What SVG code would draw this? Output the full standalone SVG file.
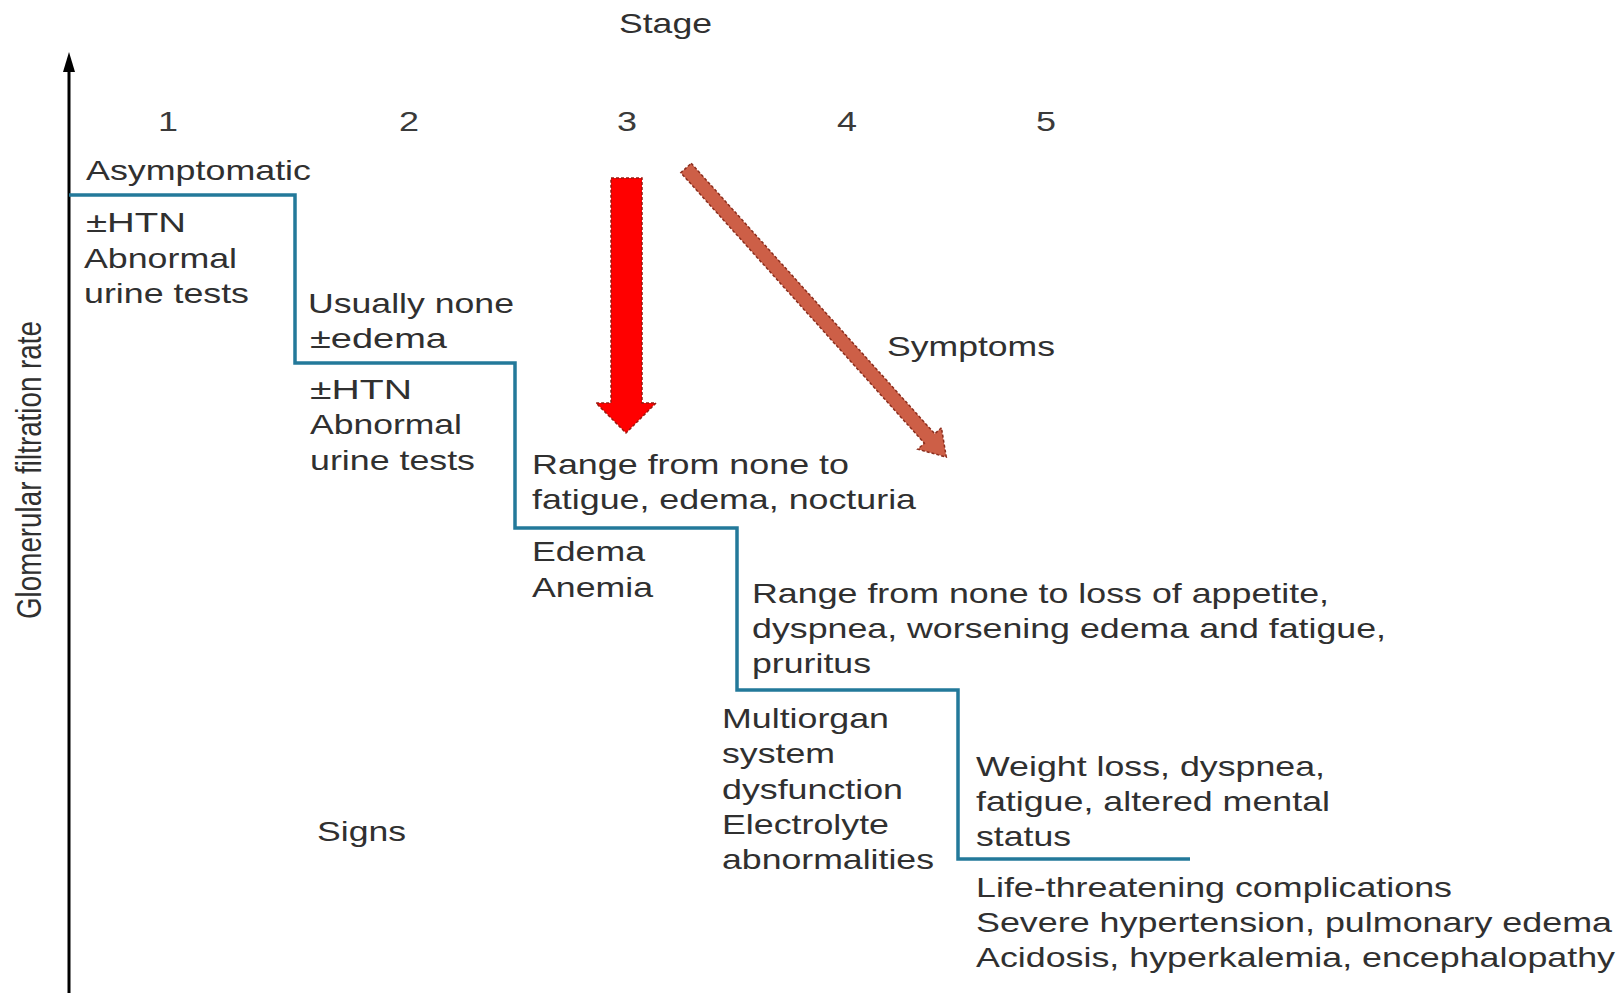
<svg xmlns="http://www.w3.org/2000/svg" width="1623" height="993" viewBox="0 0 1623 993">
<style>
text{font-family:"Liberation Sans",Arial,sans-serif;font-size:28px;fill:#303030}
.num{fill:#3a3a3a}
.step{fill:none;stroke:#23799a;stroke-width:3.5}
.axis{stroke:#000;stroke-width:3;fill:none}
</style>
<rect width="1623" height="993" fill="#fff"/>

<g id="axis">
<line class="axis" x1="69" y1="993" x2="69" y2="70"/>
<path d="M63,72 L69,52 L75,72 Z" fill="#000"/>
<text transform="translate(41,470) scale(1.25,1) rotate(-90)" text-anchor="middle" textLength="298" lengthAdjust="spacingAndGlyphs">Glomerular filtration rate</text>
</g>

<g id="stage-header">
<text x="619" y="33" textLength="93" lengthAdjust="spacingAndGlyphs">Stage</text>
<text class="num" x="158" y="131" textLength="20" lengthAdjust="spacingAndGlyphs">1</text>
<text class="num" x="399" y="131" textLength="20" lengthAdjust="spacingAndGlyphs">2</text>
<text class="num" x="617" y="131" textLength="20" lengthAdjust="spacingAndGlyphs">3</text>
<text class="num" x="837" y="131" textLength="20" lengthAdjust="spacingAndGlyphs">4</text>
<text class="num" x="1036" y="131" textLength="20" lengthAdjust="spacingAndGlyphs">5</text>
</g>

<g id="connectors">
<path class="step" d="M69,195 H295 V363 H515 V528 H737 V690 H958 V859 H1190"/>
<polygon points="611,178 642,178 642,403 656,403 626,433 596,403 611,403" fill="#ff0000" stroke="#9a1a10" stroke-width="1.5" stroke-dasharray="3 2"/>
<g transform="translate(686,168) rotate(48)">
<polygon points="0,-7 364,-7 364,-16 389,0 364,16 364,7 0,7" fill="#cd5f47" stroke="#8a2e1e" stroke-width="1.5" stroke-dasharray="3 2"/>
</g>
</g>

<g id="stage1">
<text x="86" y="180" textLength="225" lengthAdjust="spacingAndGlyphs">Asymptomatic</text>
<text x="86" y="232" textLength="100" lengthAdjust="spacingAndGlyphs">±HTN</text>
<text x="84" y="268" textLength="153" lengthAdjust="spacingAndGlyphs">Abnormal</text>
<text x="84" y="303" textLength="165" lengthAdjust="spacingAndGlyphs">urine tests</text>
</g>

<g id="stage2">
<text x="308" y="313" textLength="206" lengthAdjust="spacingAndGlyphs">Usually none</text>
<text x="310" y="348" textLength="137" lengthAdjust="spacingAndGlyphs">±edema</text>
<text x="310" y="399" textLength="102" lengthAdjust="spacingAndGlyphs">±HTN</text>
<text x="310" y="434" textLength="152" lengthAdjust="spacingAndGlyphs">Abnormal</text>
<text x="310" y="470" textLength="165" lengthAdjust="spacingAndGlyphs">urine tests</text>
</g>

<g id="stage3">
<text x="532" y="474" textLength="317" lengthAdjust="spacingAndGlyphs">Range from none to</text>
<text x="532" y="509" textLength="384" lengthAdjust="spacingAndGlyphs">fatigue, edema, nocturia</text>
<text x="532" y="561" textLength="113" lengthAdjust="spacingAndGlyphs">Edema</text>
<text x="532" y="597" textLength="121" lengthAdjust="spacingAndGlyphs">Anemia</text>
</g>

<g id="stage4">
<text x="752" y="603" textLength="577" lengthAdjust="spacingAndGlyphs">Range from none to loss of appetite,</text>
<text x="752" y="638" textLength="634" lengthAdjust="spacingAndGlyphs">dyspnea, worsening edema and fatigue,</text>
<text x="752" y="673" textLength="119" lengthAdjust="spacingAndGlyphs">pruritus</text>
<text x="722" y="728" textLength="167" lengthAdjust="spacingAndGlyphs">Multiorgan</text>
<text x="722" y="763" textLength="113" lengthAdjust="spacingAndGlyphs">system</text>
<text x="722" y="799" textLength="181" lengthAdjust="spacingAndGlyphs">dysfunction</text>
<text x="722" y="834" textLength="167" lengthAdjust="spacingAndGlyphs">Electrolyte</text>
<text x="722" y="869" textLength="212" lengthAdjust="spacingAndGlyphs">abnormalities</text>
</g>

<g id="stage5">
<text x="976" y="776" textLength="349" lengthAdjust="spacingAndGlyphs">Weight loss, dyspnea,</text>
<text x="976" y="811" textLength="354" lengthAdjust="spacingAndGlyphs">fatigue, altered mental</text>
<text x="976" y="846" textLength="95" lengthAdjust="spacingAndGlyphs">status</text>
<text x="976" y="897" textLength="476" lengthAdjust="spacingAndGlyphs">Life-threatening complications</text>
<text x="976" y="932" textLength="636" lengthAdjust="spacingAndGlyphs">Severe hypertension, pulmonary edema</text>
<text x="976" y="967" textLength="639" lengthAdjust="spacingAndGlyphs">Acidosis, hyperkalemia, encephalopathy</text>
</g>

<g id="labels">
<text x="317" y="841" textLength="89" lengthAdjust="spacingAndGlyphs">Signs</text>
<text x="887" y="356" textLength="168" lengthAdjust="spacingAndGlyphs">Symptoms</text>
</g>
</svg>
